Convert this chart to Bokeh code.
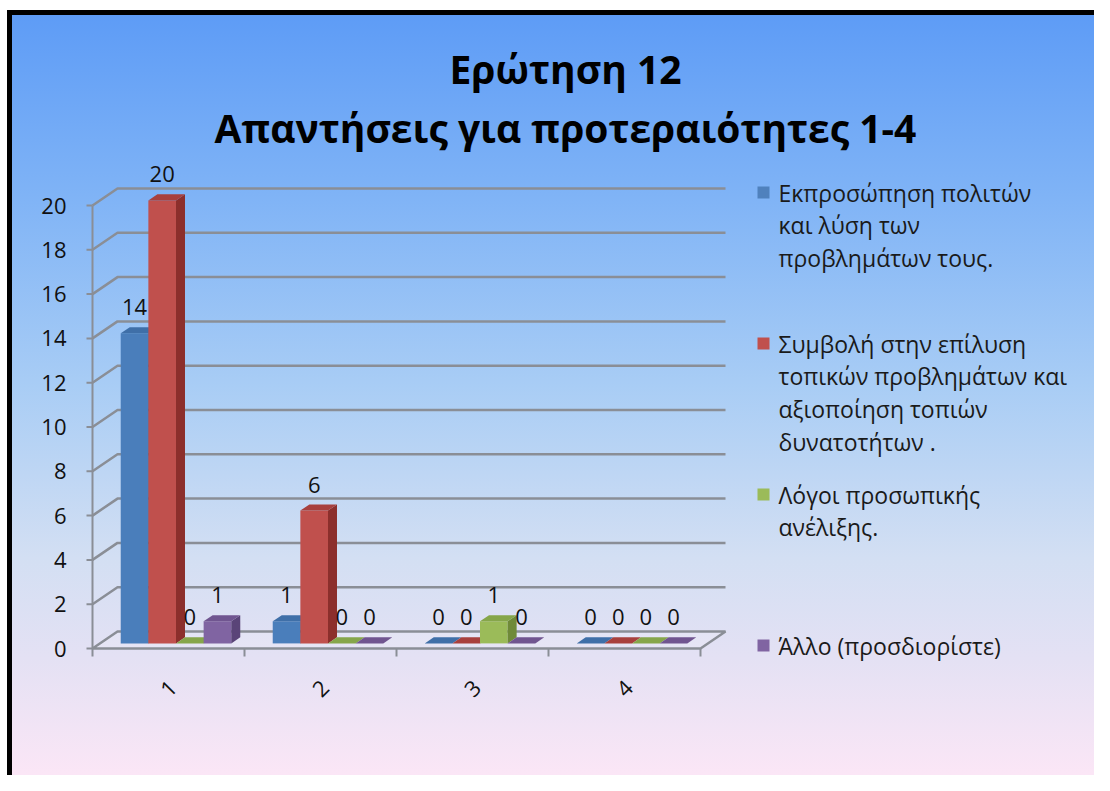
import math
from bokeh.plotting import figure
from bokeh.models import Range1d
from bokeh.core.properties import value
from bokeh.embed import file_html
from bokeh.resources import INLINE

# ---------------- data ----------------
title_lines = ["Ερώτηση 12", "Απαντήσεις για προτεραιότητες 1-4"]
categories = ["1", "2", "3", "4"]
series_names = [
    "Εκπροσώπηση πολιτών και λύση των προβλημάτων τους.",
    "Συμβολή στην επίλυση τοπικών προβλημάτων και αξιοποίηση τοπιών δυνατοτήτων .",
    "Λόγοι προσωπικής ανέλιξης.",
    "Άλλο (προσδιορίστε)",
]
legend_lines = [
    ["Εκπροσώπηση πολιτών", "και λύση των", "προβλημάτων τους."],
    ["Συμβολή στην επίλυση", "τοπικών προβλημάτων και", "αξιοποίηση τοπιών", "δυνατοτήτων ."],
    ["Λόγοι προσωπικής", "ανέλιξης."],
    ["Άλλο (προσδιορίστε)"],
]
values_s1 = [14, 1, 0, 0]
values_s2 = [20, 6, 0, 0]
values_s3 = [0, 0, 1, 0]
values_s4 = [1, 0, 0, 0]
y_ticks = [0, 2, 4, 6, 8, 10, 12, 14, 16, 18, 20]

# ---------------- style / layout ----------------
series_values = [values_s1, values_s2, values_s3, values_s4]
front_cols = ["#4a7ebb", "#c0504d", "#9bbb59", "#8064a2"]
side_cols = ["#2f5a8c", "#8c2f2c", "#6f8a38", "#5a4478"]
top_cols = ["#3f6fa8", "#a8403d", "#86a64a", "#705590"]
legend_cols = ["#4f81bd", "#c0504d", "#9bbb59", "#8064a2"]

W, H = 1094, 775
X0, Y0 = 92, 648       # px of axis origin (front)
CW = 152.0             # px per category
UH = 22.15             # px per value unit
DX, DY = 25.0, 17.0    # depth offset of back wall (px)
FONT = "Open Sans"
GRID = "#8a8e96"


def dxp(px):
    return px / CW


def dyp(py):
    return py / UH


def X(px):
    return (px - X0) / CW


def Y(py):
    return (Y0 - py) / UH


p = figure(width=W, height=H, output_backend="svg", toolbar_location=None,
           x_range=Range1d(X(0), X(W)), y_range=Range1d(Y(H), Y(0)),
           x_axis_location=None, y_axis_location=None, min_border=0,
           background_fill_color=None, border_fill_color=None,
           outline_line_color=None)
p.grid.grid_line_color = None
p.styles = {
    "background": (
        "linear-gradient(#ffffff,#ffffff) 0 0 / 100% 10px no-repeat, "
        "linear-gradient(#ffffff,#ffffff) 0 0 / 7px 100% no-repeat, "
        "linear-gradient(#000000,#000000) 7px 10px / 100% 5px no-repeat, "
        "linear-gradient(#000000,#000000) 7px 10px / 5px 100% no-repeat, "
        "linear-gradient(to bottom, #5b9af6 0%, #7fb3f6 25%, #a9cdf5 50%, "
        "#d3dff3 72%, #e4e1f4 85%, #fbe6f6 100%)"
    ),
}

n_cat = len(categories)
ddx, ddy = dxp(DX), dyp(DY)

# floor
p.patch([0, n_cat, n_cat + ddx, ddx], [0, 0, ddy, ddy],
        fill_color="#ffffff", fill_alpha=0.15, line_color=GRID, line_width=2.5)

# gridlines on back wall with diagonal left wall edges
gx, gy = [], []
for v in y_ticks:
    if v == 0:
        continue
    gx.append([0, ddx, n_cat + ddx])
    gy.append([v, v + ddy, v + ddy])
p.multi_line(gx, gy, line_color=GRID, line_width=2.5)

# y axis line + ticks
p.line([0, 0], [0, max(y_ticks)], line_color=GRID, line_width=2)
p.segment(x0=[dxp(-6)] * len(y_ticks), y0=y_ticks, x1=[0] * len(y_ticks), y1=y_ticks,
          line_color=GRID, line_width=2)
# x ticks
p.segment(x0=list(range(n_cat + 1)), y0=[0] * (n_cat + 1),
          x1=list(range(n_cat + 1)), y1=[dyp(-8)] * (n_cat + 1),
          line_color=GRID, line_width=2)

# y tick labels
p.text(x=[X(66)] * len(y_ticks), y=y_ticks, text=[str(v) for v in y_ticks],
       text_align="right", text_baseline="middle", text_font=value(FONT),
       text_font_size="22px", text_color="#111111")

# category labels (rotated)
p.text(x=[i + 0.5 for i in range(n_cat)], y=[Y(688)] * n_cat, text=categories,
       angle=math.pi / 4, text_align="center", text_baseline="middle",
       text_font=value(FONT), text_font_size="22px", text_color="#111111")

# bars (3D)
n_ser = len(series_values)
bw = 1.0 / (n_ser + 1.5)
fx, fy = 0.3 * ddx, 0.3 * ddy
sdx, sdy = 0.36 * ddx, 0.36 * ddy
xs, ys, cols = [], [], []
lab_x, lab_y, lab_t = [], [], []
for c in range(n_cat):
    for s in range(n_ser):
        v = series_values[s][c]
        left = c + 0.5 - (n_ser / 2.0) * bw + s * bw + fx
        right = left + bw
        b = fy
        t = v + fy
        if v > 0:
            xs.append([left, right, right, left]); ys.append([b, b, t, t]); cols.append(front_cols[s])
            xs.append([right, right + sdx, right + sdx, right]); ys.append([b, b + sdy, t + sdy, t]); cols.append(side_cols[s])
        xs.append([left, right, right + sdx, left + sdx]); ys.append([t, t, t + sdy, t + sdy]); cols.append(top_cols[s])
        lab_x.append(left + bw / 2)
        lab_y.append(t + dyp(26))
        lab_t.append(str(v))
p.patches(xs, ys, fill_color=cols, line_color=None)

# data labels
p.text(x=lab_x, y=lab_y, text=lab_t, text_align="center", text_baseline="middle",
       text_font=value(FONT), text_font_size="22px", text_color="#111111")

# title
p.text(x=[X(565)] * 2, y=[Y(68), Y(127)], text=title_lines, text_align="center",
       text_baseline="middle", text_font=value(FONT), text_font_size="39px",
       text_font_style="bold", text_color="#000000")

# legend
LEG_TOP = 192
LEG_STEP = 151
LINE_H = 32.7
sq_x, sq_y = [], []
lt_x, lt_y, lt_t = [], [], []
for k, lines in enumerate(legend_lines):
    y0 = LEG_TOP + k * LEG_STEP
    sq_x.append(X(763)); sq_y.append(Y(y0))
    for j, ln in enumerate(lines):
        lt_x.append(X(778)); lt_y.append(Y(y0 + j * LINE_H)); lt_t.append(ln)
p.scatter(sq_x, sq_y, marker="square", size=12, fill_color=legend_cols, line_color=None)
p.text(x=lt_x, y=lt_y, text=lt_t, text_align="left", text_baseline="middle",
       text_font=value(FONT), text_font_size="23px", text_color="#1a1a1a")

open("out.html", "w").write(file_html(p, INLINE))
